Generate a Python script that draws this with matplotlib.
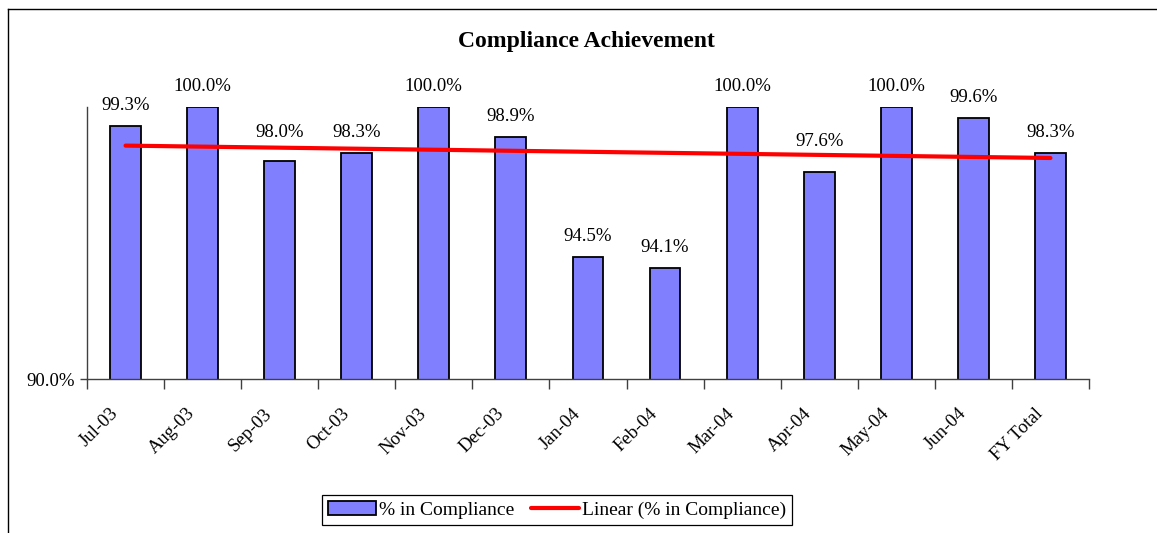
import numpy as np
import matplotlib
matplotlib.use("Agg")
import matplotlib.pyplot as plt
from matplotlib.lines import Line2D
from matplotlib.transforms import ScaledTranslation

plt.rcParams["font.family"] = ["Liberation Serif", "DejaVu Serif"]

# data
months = ["Jul-03", "Aug-03", "Sep-03", "Oct-03", "Nov-03", "Dec-03", "Jan-04",
          "Feb-04", "Mar-04", "Apr-04", "May-04", "Jun-04", "FY Total"]
compliance = [99.3, 100.0, 98.0, 98.3, 100.0, 98.9, 94.5, 94.1, 100.0, 97.6,
              100.0, 99.6, 98.3]

x = np.arange(len(months))
# Excel-style linear trendline fitted to the bars
slope, intercept = np.polyfit(x, compliance, 1)
trend = slope * x + intercept

fig = plt.figure(figsize=(11.57, 5.33), dpi=100)
ax = fig.add_axes([0.0752, 0.2889, 0.866, 0.5103])

bars = ax.bar(x, compliance, width=0.4, bottom=0, color="#8080FF",
              edgecolor="black", linewidth=1.3, label="% in Compliance", zorder=2)
line, = ax.plot(x, trend, color="red", linewidth=3,
                label="Linear (% in Compliance)", zorder=3, solid_capstyle="round")

# two labels sit a little higher in the original, clear of the trendline
nudge = {2: 6.5, 9: 7.5}
for i, (xi, v) in enumerate(zip(x, compliance)):
    ax.annotate(f"{v:.1f}%", (xi, v), xytext=(0, 8.5 + nudge.get(i, 0)),
                textcoords="offset points", ha="center", va="bottom",
                fontsize=13.5)

ax.set_xlim(-0.5, len(months) - 0.5)
ax.set_ylim(90, 100)
ax.set_yticks([90])
ax.set_yticklabels(["90.0%"], fontsize=13.5)

# ticks at the category boundaries, labels drawn under the category centres
ax.set_xticks(np.arange(len(months) + 1) - 0.5)
ax.set_xticklabels([])
ax.tick_params(axis="x", direction="out", length=7, width=1, color="#404040")
ax.tick_params(axis="y", direction="out", length=5, width=1, color="#404040", pad=4)

shift = ax.transData + ScaledTranslation(-0.10, -0.32, fig.dpi_scale_trans)
for xi, m in zip(x, months):
    ax.text(xi, 90, m, transform=shift, rotation=45, ha="right", va="center",
            rotation_mode="anchor", fontsize=13.5, clip_on=False)

for s in ["top", "right"]:
    ax.spines[s].set_visible(False)
for s in ["left", "bottom"]:
    ax.spines[s].set_color("#404040")
    ax.spines[s].set_linewidth(1)

fig.text(0.507, 0.923, "Compliance Achievement", ha="center", va="center",
         fontsize=17, fontweight="bold")

leg = fig.legend([bars, line], ["% in Compliance", "Linear (% in Compliance)"],
                 loc="center", bbox_to_anchor=(0.4815, 0.043), ncol=2,
                 fontsize=14, frameon=True, fancybox=False, framealpha=1,
                 edgecolor="black", handlelength=2.45, handleheight=0.75,
                 handletextpad=0.15, columnspacing=0.9, borderpad=0.3,
                 borderaxespad=0)
leg.get_frame().set_linewidth(0.9)

# outer chart-area border (cut off at right and bottom in the reference)
fig.add_artist(Line2D([8 / 1157, 8 / 1157], [0, 1 - 9 / 533], color="black",
                      linewidth=1, transform=fig.transFigure))
fig.add_artist(Line2D([8 / 1157, 1], [1 - 9 / 533, 1 - 9 / 533], color="black",
                      linewidth=1, transform=fig.transFigure))

fig.savefig("out.png", dpi=100)
